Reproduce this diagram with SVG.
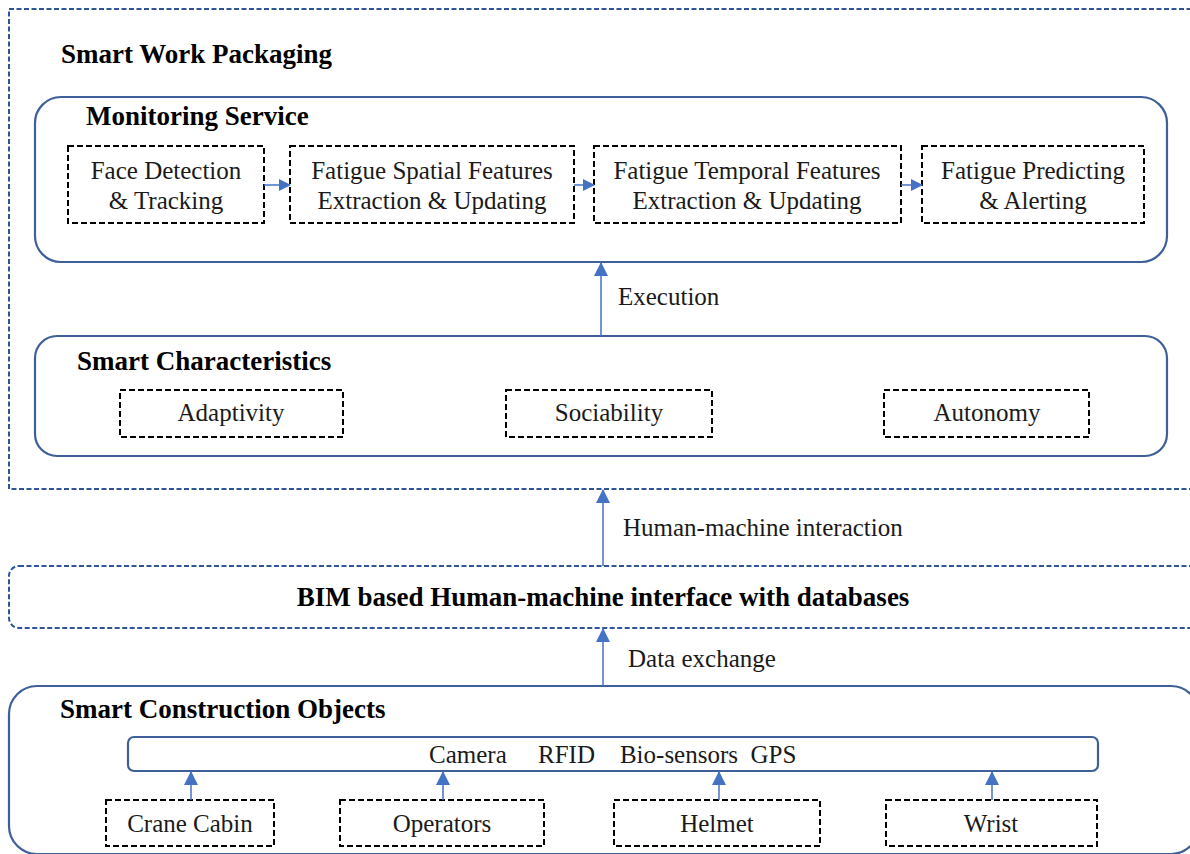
<svg xmlns="http://www.w3.org/2000/svg" width="1190" height="854" viewBox="0 0 1190 854">
<defs>
<style>
.title{font-family:'Liberation Serif','Times New Roman',serif;font-weight:bold;font-size:27px;fill:#000}
.lbl{font-family:'Liberation Serif','Times New Roman',serif;font-size:25px;fill:#1a1a1a}
.dbox{fill:#fff;stroke:#000;stroke-width:2;stroke-dasharray:6 3}
.rbox{fill:none;stroke:#3F5F99;stroke-width:2.2}
.outer{fill:none;stroke:#2F5597;stroke-width:2;stroke-dasharray:5 2.5}
.conn{stroke:#4472C4;stroke-width:1.5;fill:none}
</style>
<marker id="ah" markerWidth="12" markerHeight="12" refX="11" refY="6" orient="auto" markerUnits="userSpaceOnUse">
<path d="M0,0 L12,6 L0,12 Z" fill="#4472C4"/>
</marker>
<marker id="ahb" markerWidth="14" markerHeight="14" refX="13" refY="7" orient="auto" markerUnits="userSpaceOnUse">
<path d="M0,0 L14,7 L0,14 Z" fill="#4472C4"/>
</marker>
</defs>
<rect width="1190" height="854" fill="#fff"/>

<g id="smart-work-packaging">
<rect class="outer" x="9" y="9" width="1200" height="480"/>
<text class="title" x="61" y="63">Smart Work  Packaging</text>
</g>

<g id="monitoring-service">
<rect class="rbox" x="35" y="97" width="1132" height="165" rx="26"/>
<text class="title" x="86" y="125">Monitoring Service</text>
</g>
<g id="face-detection">
<rect class="dbox" x="68" y="146" width="196" height="77"/>
<text class="lbl" text-anchor="middle" x="166" y="179">Face Detection</text>
<text class="lbl" text-anchor="middle" x="166" y="209">&amp; Tracking</text>
</g>
<g id="spatial-features">
<rect class="dbox" x="290" y="146" width="284" height="77"/>
<text class="lbl" text-anchor="middle" x="432" y="179">Fatigue Spatial Features</text>
<text class="lbl" text-anchor="middle" x="432" y="209">Extraction &amp; Updating</text>
</g>
<g id="temporal-features">
<rect class="dbox" x="594" y="146" width="307" height="77"/>
<text class="lbl" text-anchor="middle" x="747" y="179">Fatigue Temporal Features</text>
<text class="lbl" text-anchor="middle" x="747" y="209">Extraction &amp; Updating</text>
</g>
<g id="predicting">
<rect class="dbox" x="922" y="146" width="222" height="77"/>
<text class="lbl" text-anchor="middle" x="1033" y="179">Fatigue Predicting</text>
<text class="lbl" text-anchor="middle" x="1033" y="209">&amp; Alerting</text>
</g>

<g id="smart-characteristics">
<rect class="rbox" x="35" y="336" width="1132" height="120" rx="22"/>
<text class="title" x="77" y="370">Smart Characteristics</text>
</g>
<g id="adaptivity">
<rect class="dbox" x="120" y="390" width="223" height="47"/>
<text class="lbl" text-anchor="middle" x="231" y="421">Adaptivity</text>
</g>
<g id="sociability">
<rect class="dbox" x="506" y="390" width="206" height="47"/>
<text class="lbl" text-anchor="middle" x="609" y="421">Sociability</text>
</g>
<g id="autonomy">
<rect class="dbox" x="884" y="390" width="205" height="47"/>
<text class="lbl" text-anchor="middle" x="987" y="421">Autonomy</text>
</g>

<g id="bim-interface">
<rect class="outer" x="9" y="566" width="1200" height="62" rx="10"/>
<text class="title" text-anchor="middle" x="603" y="606" font-size="26.5">BIM based Human-machine  interface with databases</text>
</g>

<g id="smart-construction-objects">
<rect class="rbox" x="9" y="686" width="1190" height="168" rx="28"/>
<text class="title" x="60" y="718">Smart Construction Objects</text>
</g>
<g id="sensors">
<rect class="rbox" x="128" y="737" width="970" height="34" rx="6"/>
<text class="lbl" x="429" y="763" xml:space="preserve">Camera     RFID    Bio-sensors  GPS</text>
</g>
<g id="crane-cabin">
<rect class="dbox" x="106" y="800" width="168" height="46"/>
<text class="lbl" text-anchor="middle" x="190" y="832">Crane Cabin</text>
</g>
<g id="operators">
<rect class="dbox" x="340" y="800" width="204" height="46"/>
<text class="lbl" text-anchor="middle" x="442" y="832">Operators</text>
</g>
<g id="helmet">
<rect class="dbox" x="614" y="800" width="206" height="46"/>
<text class="lbl" text-anchor="middle" x="717" y="832">Helmet</text>
</g>
<g id="wrist">
<rect class="dbox" x="886" y="800" width="211" height="46"/>
<text class="lbl" text-anchor="middle" x="991" y="832">Wrist</text>
</g>

<g id="connectors">
<line class="conn" x1="264" y1="185" x2="290" y2="185" marker-end="url(#ah)"/>
<line class="conn" x1="574" y1="185" x2="594" y2="185" marker-end="url(#ah)"/>
<line class="conn" x1="901" y1="185" x2="922" y2="185" marker-end="url(#ah)"/>
<line class="conn" x1="601" y1="336" x2="601" y2="263" marker-end="url(#ahb)"/>
<text class="lbl" x="618" y="305">Execution</text>
<line class="conn" x1="603" y1="566" x2="603" y2="490" marker-end="url(#ahb)"/>
<text class="lbl" x="623" y="536">Human-machine interaction</text>
<line class="conn" x1="603" y1="686" x2="603" y2="629" marker-end="url(#ahb)"/>
<text class="lbl" x="628" y="667">Data exchange</text>
<line class="conn" x1="191" y1="800" x2="191" y2="772" marker-end="url(#ahb)"/>
<line class="conn" x1="443" y1="800" x2="443" y2="772" marker-end="url(#ahb)"/>
<line class="conn" x1="719" y1="800" x2="719" y2="772" marker-end="url(#ahb)"/>
<line class="conn" x1="992" y1="800" x2="992" y2="772" marker-end="url(#ahb)"/>
</g>
</svg>
